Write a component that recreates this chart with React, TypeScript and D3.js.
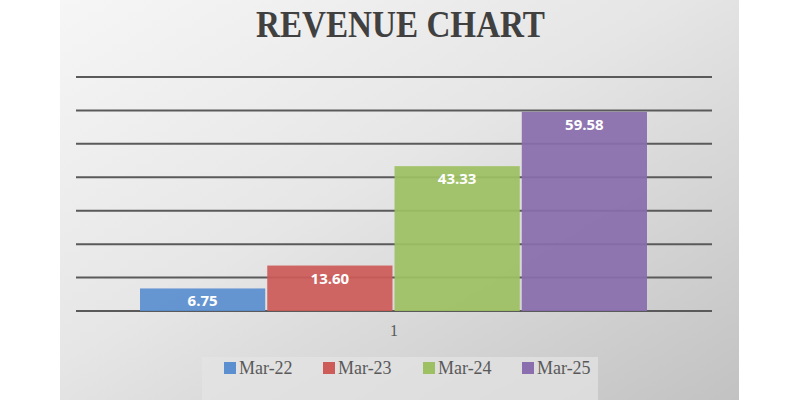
import React, { useEffect, useRef } from 'react';
import * as d3 from 'd3';

const seriesNames = ['Mar-22', 'Mar-23', 'Mar-24', 'Mar-25'];
const revenue = [6.75, 13.6, 43.33, 59.58];
const seriesColors = ['#5b8fd0', '#cd5b58', '#9dc162', '#8a6ead'];
const gridTicks = [0, 10, 20, 30, 40, 50, 60, 70];
const categoryLabel = '1';

const RevenueChart = () => {
  const svgRef = useRef<SVGSVGElement>(null);

  useEffect(() => {
    const svg = d3.select(svgRef.current);
    svg.selectAll('*').remove();

    const width = 800;
    const height = 400;
    const plot = { left: 76, right: 712, top: 77, bottom: 311 };

    svg.attr('width', width).attr('height', height);

    // panel background gradient
    const defs = svg.append('defs');
    const grad = defs.append('linearGradient')
      .attr('id', 'panelGrad')
      .attr('x1', '0%').attr('y1', '0%')
      .attr('x2', '100%').attr('y2', '100%');
    grad.append('stop').attr('offset', '0%').attr('stop-color', '#f6f6f6');
    grad.append('stop').attr('offset', '45%').attr('stop-color', '#e6e6e6');
    grad.append('stop').attr('offset', '100%').attr('stop-color', '#c2c2c2');

    svg.append('rect')
      .attr('x', 0).attr('y', 0)
      .attr('width', width).attr('height', height)
      .attr('fill', '#ffffff');

    svg.append('rect')
      .attr('x', 60).attr('y', 0)
      .attr('width', 679).attr('height', height)
      .attr('fill', 'url(#panelGrad)');

    // condensed bold title
    svg.append('text')
      .attr('x', 256)
      .attr('y', 37)
      .attr('textLength', 289)
      .attr('lengthAdjust', 'spacingAndGlyphs')
      .style('font-family', '"Liberation Serif", serif')
      .style('font-size', '37px')
      .style('font-weight', 'bold')
      .attr('fill', '#404040')
      .text('REVENUE CHART');

    const yScale = d3.scaleLinear()
      .domain([0, 70])
      .range([plot.bottom, plot.top]);

    const xScale = d3.scaleBand<string>()
      .domain(seriesNames)
      .range([140, 647])
      .paddingInner(0.016);

    const g = svg.append('g');

    // gridlines
    g.selectAll('.grid')
      .data(gridTicks)
      .enter().append('line')
      .attr('class', 'grid')
      .attr('x1', plot.left)
      .attr('x2', plot.right)
      .attr('y1', d => yScale(d))
      .attr('y2', d => yScale(d))
      .attr('stroke', '#5a5a5a')
      .attr('stroke-width', 2);

    // bars
    g.selectAll('.bar')
      .data(revenue)
      .enter().append('rect')
      .attr('class', 'bar')
      .attr('x', (d, i) => xScale(seriesNames[i]) as number)
      .attr('y', d => yScale(d))
      .attr('width', xScale.bandwidth())
      .attr('height', d => yScale(0) - yScale(d))
      .attr('fill', (d, i) => seriesColors[i])
      .attr('fill-opacity', 0.93);

    // value labels
    g.selectAll('.val')
      .data(revenue)
      .enter().append('text')
      .attr('class', 'val')
      .attr('x', (d, i) => (xScale(seriesNames[i]) as number) + xScale.bandwidth() / 2)
      .attr('y', d => yScale(d) + 18)
      .attr('text-anchor', 'middle')
      .style('font-family', '"Open Sans", "Liberation Sans", sans-serif')
      .style('font-size', '15px')
      .style('font-weight', 'bold')
      .attr('fill', '#ffffff')
      .text(d => d.toFixed(2));

    // category label
    svg.append('text')
      .attr('x', 394)
      .attr('y', 336)
      .attr('text-anchor', 'middle')
      .style('font-family', '"Liberation Serif", serif')
      .style('font-size', '16px')
      .attr('fill', '#595959')
      .text(categoryLabel);

    // legend
    svg.append('rect')
      .attr('x', 202).attr('y', 357)
      .attr('width', 396).attr('height', 43)
      .attr('fill', '#e4e4e4')
      .attr('fill-opacity', 0.7);

    const legendX = [224, 323, 423, 522];
    const legend = svg.selectAll('.legend')
      .data(seriesNames)
      .enter().append('g')
      .attr('class', 'legend')
      .attr('transform', (d, i) => `translate(${legendX[i]}, 368)`);

    legend.append('rect')
      .attr('x', 0).attr('y', -6)
      .attr('width', 12).attr('height', 12)
      .attr('fill', (d, i) => seriesColors[i]);

    legend.append('text')
      .attr('x', 15)
      .attr('y', 6)
      .style('font-family', '"Liberation Serif", serif')
      .style('font-size', '18px')
      .attr('fill', '#595959')
      .text(d => d);
  }, []);

  return (
    <svg ref={svgRef} style={{ position: 'absolute', left: 0, top: 0, display: 'block' }}></svg>
  );
};

export default function App() {
  return <RevenueChart />;
}
